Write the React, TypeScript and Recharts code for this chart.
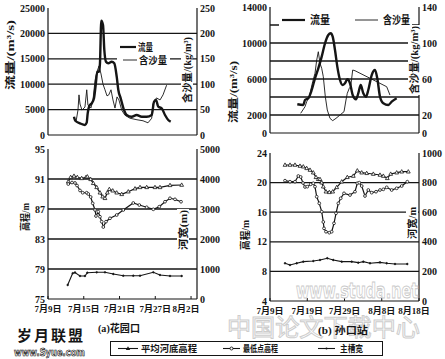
import React from 'react';
import { ComposedChart, Line, XAxis, YAxis, ReferenceLine } from 'recharts';

const SERIF = "'Liberation Serif', 'Noto Sans CJK SC', serif";
const CJK = "'Noto Sans CJK SC', sans-serif";
const INK = '#151515';

// ---------- (a) 花园口 : x = days after 7月9日 ----------
const hykXTicks = [0, 6, 12, 18, 24];
const hykXLabels = ['7月9日', '7月15日', '7月21日', '7月27日', '8月2日'];

const hykFlowDay = [4.36, 4.58, 5.37, 6.21, 6.49, 6.66, 6.93, 7.33, 7.72, 8.0, 8.27, 8.56, 8.72, 8.94, 9.23, 9.45, 9.73, 10.12, 10.69, 11.12, 11.53, 11.8, 12.2, 12.75, 13.2, 14.04, 14.88, 15.72, 16.56, 17.4, 17.79, 18.12, 18.5, 19.08, 19.63, 20.18, 20.59];
const hykFlow = [3600, 2800, 2300, 1970, 2420, 4270, 5710, 6240, 7220, 9840, 12460, 12460, 14110, 22500, 21650, 16730, 14430, 14110, 14430, 14110, 11480, 8860, 7220, 4920, 3940, 3600, 3940, 3600, 3600, 3940, 6550, 6890, 5570, 5260, 3940, 2950, 2620];

const hykSedDay = [4.36, 4.7, 5.03, 5.2, 5.37, 5.7, 6.2, 6.5, 6.7, 7.2, 7.55, 7.9, 8.2, 8.56, 8.9, 9.23, 9.56, 9.9, 10.2, 10.57, 10.9, 11.24, 11.58, 11.9, 12.37, 12.9, 13.76, 14.93, 15.94, 16.78, 17.4, 17.6, 18.2, 18.8, 19.3, 19.9];
const hykSed = [33, 26, 49, 79, 61, 49, 55, 89, 59, 53, 69, 108, 124, 136, 120, 100, 89, 77, 79, 89, 69, 53, 75, 69, 49, 39, 33, 30, 28, 24, 33, 61, 73, 69, 79, 98];

const hykMeanDay = [3.4, 3.8, 4.36, 4.92, 5.65, 6.38, 6.6, 7.16, 7.6, 8.17, 8.72, 9.18, 9.56, 9.95, 10.29, 10.86, 11.53, 12.37, 13.47, 14.6, 15.44, 16.56, 17.95, 18.79, 20.47, 22.43];
const hykMean = [90.64, 91.23, 91.4, 91.23, 91.09, 91.23, 91.31, 90.96, 90.43, 89.89, 89.17, 88.64, 88.43, 89.17, 89.63, 89.44, 89.17, 88.96, 89.31, 89.71, 89.89, 89.89, 89.89, 89.89, 90.16, 90.2];

const hykLowDay = [3.4, 4.03, 4.53, 4.87, 5.37, 5.82, 6.49, 6.76, 7.16, 7.5, 7.89, 8.05, 8.44, 8.72, 9.01, 9.28, 9.73, 10.4, 11.53, 12.63, 14.31, 15.32, 16.56, 17.67, 18.67, 19.63, 20.47, 21.31, 22.32];
const hykLow = [90.33, 90.53, 90.47, 90.13, 89.47, 89.17, 89.17, 89.0, 88.6, 87.76, 86.87, 86.07, 86.64, 85.97, 85.31, 84.6, 85.31, 85.76, 86.2, 86.87, 87.8, 87.53, 87.23, 86.96, 87.31, 87.97, 88.43, 88.29, 87.97];

const hykWidthDay = [3.3, 4.14, 4.53, 5.37, 6.2, 6.6, 8.17, 9.56, 10.96, 12.63, 14.31, 15.44, 17.67, 18.79, 20.47, 22.43];
const hykWidth = [467, 857, 883, 767, 767, 877, 890, 890, 833, 777, 777, 777, 890, 800, 767, 767];

// ---------- (b) 孙口站 ----------
const skXTicks = [0, 10, 20, 30, 40];
const skXLabels = ['7月9日', '7月19日', '7月29日', '8月8日', '8月18日'];

const skFlowDay = [7.33, 8.94, 9.4, 10.28, 11.2, 12.08, 12.97, 13.88, 14.77, 15.65, 16.3, 16.83, 17.45, 18.07, 18.79, 19.52, 20.13, 20.75, 21.48, 22.2, 23.09, 23.7, 24.35, 25.05, 25.77, 26.39, 27.3, 28.19, 28.8, 29.53, 30.42, 31.76, 32.67, 34.0];
const skFlow = [3190, 3110, 3670, 3860, 4780, 6080, 7190, 8480, 9970, 10890, 11080, 10700, 9220, 7370, 5890, 5330, 5520, 5970, 5520, 4220, 3740, 4410, 5330, 4410, 4030, 4780, 6440, 7000, 6080, 4030, 3300, 3110, 3480, 3860];

const skSedDay = [8.24, 9.4, 9.85, 10.55, 11.46, 12.08, 12.54, 12.97, 13.42, 13.88, 14.31, 14.85, 15.38, 16.1, 16.83, 17.72, 18.79, 19.87, 20.4, 20.75, 21.29, 21.66, 22.2, 22.82, 26.85, 31.33, 32.2];
const skSed = [21.9, 29.2, 34.8, 40.3, 57, 66.3, 81.1, 90.3, 77.4, 71.9, 62.5, 40.3, 25.6, 16.3, 13.7, 16.3, 20, 23.7, 36.7, 44.1, 49.7, 51.4, 70, 69.2, 60.8, 51.4, 42.2];

const skMeanDay = [4.03, 5.37, 6.71, 8.05, 8.94, 9.85, 10.74, 11.62, 12.35, 12.97, 13.42, 13.88, 14.31, 15.03, 15.92, 16.83, 17.91, 19.25, 20.75, 22.36, 23.44, 24.62, 25.96, 27.73, 29.53, 30.42, 31.49, 32.4, 34.01, 35.36, 37.13];
const skMean = [22.38, 22.38, 22.38, 22.24, 22.15, 21.93, 21.7, 21.34, 20.72, 20.45, 20.45, 19.99, 19.45, 18.77, 18.69, 18.77, 19.36, 20.12, 20.72, 20.89, 21.61, 21.34, 21.26, 21.16, 21.03, 20.89, 20.58, 21.16, 21.34, 21.47, 21.47];

const skLowDay = [4.03, 5.37, 6.71, 7.6, 8.24, 8.86, 9.4, 10.01, 10.93, 11.62, 12.08, 12.54, 13.23, 13.88, 14.31, 14.5, 15.03, 15.92, 16.56, 17.18, 17.72, 18.34, 18.98, 19.87, 21.48, 22.82, 23.44, 23.97, 24.62, 25.5, 26.39, 27.3, 28.46, 29.53, 30.42, 31.33, 32.67, 34.01, 35.36, 36.86];
const skLow = [20.26, 20.12, 20.12, 20.89, 20.76, 19.95, 19.41, 19.45, 19.77, 19.91, 19.45, 18.09, 17.2, 16.07, 14.68, 13.82, 13.36, 13.23, 13.36, 14.5, 15.85, 17.2, 17.88, 18.55, 18.32, 18.77, 19.91, 19.99, 19.54, 18.19, 19.0, 18.64, 18.77, 19.0, 19.09, 19.36, 19.0, 19.23, 19.54, 20.12];

const skWidthDay = [4.03, 5.37, 7.17, 8.94, 11.62, 13.42, 15.38, 16.99, 19.25, 21.93, 23.7, 25.05, 26.85, 29.53, 31.33, 33.56, 36.86];
const skWidth = [255, 243, 255, 266, 270, 277, 289, 277, 266, 266, 259, 266, 255, 261, 255, 250, 250];

// axis ticks / grid values
const hykQTicks = [0, 5000, 10000, 15000, 20000, 25000];
const hykSTicks = [0, 50, 100, 150, 200, 250];
const hykQGrid = [5000, 10000, 15000, 20000];
const skQTicks = [0, 2000, 6000, 10000, 14000];
const skSTicks = [0, 20, 60, 100, 140];
const skQGrid = [2000, 4000, 6000, 8000, 10000, 12000];
const hykHTicks = [75, 79, 83, 87, 91, 95];
const hykWTicks = [0, 1000, 2000, 3000, 4000, 5000];
const hykHGrid = [79, 83, 87, 91];
const skHTicks = [4, 8, 12, 16, 20, 24];
const skWTicks = [0, 200, 400, 600, 800, 1000];
const skHGrid = [8, 12, 16, 20];

const zip = (days: number[], vals: number[]) => days.map((d, i) => ({ d, v: vals[i] }));

const yTick = { fontSize: 10, fontFamily: SERIF, fontWeight: 'bold', fill: INK };

const mkXTick = (ticks: number[], labels: string[]) => (p: any) => {
  const i = ticks.indexOf(p.payload.value);
  // last label is pulled in a little, like the printed figure
  const dx = i === ticks.length - 1 ? -5 : 0;
  return (
    <g>
      <line x1={p.x} x2={p.x} y1={p.y} y2={p.y - 3} stroke={INK} strokeWidth={1} />
      <text x={p.x + dx} y={p.y + 10} textAnchor="middle" dominantBaseline="central" fontSize={9}
        fontWeight="bold" fontFamily={SERIF} fill={INK}>{labels[i]}</text>
    </g>
  );
};

const triDot = (p: any) => {
  const { cx, cy, index } = p;
  if (cx == null || cy == null) return <g key={`t${index}`} />;
  return (
    <path key={`t${index}`} d={`M${cx},${cy - 2.1}L${cx + 1.9},${cy + 1.3}L${cx - 1.9},${cy + 1.3}Z`}
      fill="#fff" stroke={INK} strokeWidth={0.8} />
  );
};

type Box = { left: number; top: number; width: number; height: number; mTop: number; lw: number; rw: number; xh: number };

function panel(
  box: Box, xDomain: [number, number], xTicks: number[], xLabels: string[] | null,
  lDomain: [number, number], lTicks: number[], rDomain: [number, number], rTicks: number[],
  grid: number[], series: React.ReactElement[],
) {
  return (
    <div style={{ position: 'absolute', left: box.left, top: box.top }}>
      <ComposedChart width={box.width} height={box.height} margin={{ top: box.mTop, right: 0, bottom: 0, left: 0 }}>
        <XAxis dataKey="d" type="number" domain={xDomain} ticks={xTicks} interval={0} allowDataOverflow
          height={box.xh} axisLine={{ stroke: INK, strokeWidth: 1.2 }} tickLine={false} tickSize={0} tickMargin={0}
          tick={xLabels ? mkXTick(xTicks, xLabels) : false} />
        <YAxis yAxisId="l" orientation="left" width={box.lw} domain={lDomain} ticks={lTicks} interval={0}
          allowDataOverflow axisLine={{ stroke: INK, strokeWidth: 1.2 }} tickLine={false} tickSize={0} tickMargin={3} tick={yTick} />
        <YAxis yAxisId="r" orientation="right" width={box.rw} domain={rDomain} ticks={rTicks} interval={0}
          allowDataOverflow axisLine={{ stroke: INK, strokeWidth: 1.2 }} tickLine={false} tickSize={0} tickMargin={3} tick={yTick} />
        {grid.map((g) => (
          <ReferenceLine key={g} yAxisId="l" y={g} stroke={INK} strokeWidth={1.3} />
        ))}
        {series}
      </ComposedChart>
    </div>
  );
}

const flowLine = (key: string, data: { d: number; v: number }[]) => (
  <Line key={key} yAxisId="l" data={data} dataKey="v" type="monotone" stroke={INK} strokeWidth={2.4}
    dot={false} isAnimationActive={false} />
);
const sedLine = (key: string, data: { d: number; v: number }[]) => (
  <Line key={key} yAxisId="r" data={data} dataKey="v" type="linear" stroke={INK} strokeWidth={0.9}
    dot={false} isAnimationActive={false} />
);
const meanLine = (key: string, data: { d: number; v: number }[]) => (
  <Line key={key} yAxisId="l" data={data} dataKey="v" type="linear" stroke={INK} strokeWidth={1.2}
    dot={triDot} isAnimationActive={false} />
);
const lowLine = (key: string, data: { d: number; v: number }[]) => (
  <Line key={key} yAxisId="l" data={data} dataKey="v" type="linear" stroke={INK} strokeWidth={1.2}
    dot={{ r: 1.4, fill: '#fff', stroke: INK, strokeWidth: 0.8 }} isAnimationActive={false} />
);
const widthLine = (key: string, data: { d: number; v: number }[]) => (
  <Line key={key} yAxisId="r" data={data} dataKey="v" type="linear" stroke={INK} strokeWidth={1.1}
    dot={{ r: 0.9, fill: INK, stroke: INK, strokeWidth: 0.5 }} isAnimationActive={false} />
);

function VTitle({ x, y, len, bg, children }: { x: number; y: number; len: number; bg?: boolean; children: string }) {
  return (
    <g>
      {bg && <rect x={x - 6} y={y - len / 2 - 1} width={12} height={len + 2} fill="#fff" />}
      <text x={x} y={y} transform={`rotate(-90 ${x} ${y})`} textAnchor="middle" dominantBaseline="central"
        fontSize={10.5} fontWeight="bold" fontFamily={SERIF} fill={INK} textLength={len} lengthAdjust="spacingAndGlyphs">
        {children}
      </text>
    </g>
  );
}

function T({ x, y, len, size = 10, children, ...rest }: any) {
  return (
    <text x={x} y={y} dominantBaseline="central" fontSize={size} fontWeight="bold" fontFamily={SERIF} fill={INK}
      textLength={len} lengthAdjust="spacingAndGlyphs" {...rest}>{children}</text>
  );
}

export default function App() {
  return (
    <div style={{ position: 'absolute', left: 0, top: 0, width: 445, height: 359, background: '#fff', overflow: 'hidden' }}>
      {panel({ left: 0, top: 0, width: 225, height: 140, mTop: 8, lw: 48, rw: 28, xh: 5 },
        [0, 25], hykXTicks, null, [0, 25000], hykQTicks, [0, 250], hykSTicks, hykQGrid,
        [sedLine('s', zip(hykSedDay, hykSed)), flowLine('q', zip(hykFlowDay, hykFlow))])}
      {panel({ left: 220, top: 0, width: 225, height: 138, mTop: 7, lw: 50, rw: 26, xh: 5 },
        [0, 40], skXTicks, null, [0, 14000], skQTicks, [0, 140], skSTicks, skQGrid,
        [sedLine('s', zip(skSedDay, skSed)), flowLine('q', zip(skFlowDay, skFlow))])}
      {panel({ left: 0, top: 140, width: 225, height: 182, mTop: 9, lw: 48, rw: 28, xh: 23 },
        [0, 25], hykXTicks, hykXLabels, [75, 95], hykHTicks, [0, 5000], hykWTicks, hykHGrid,
        [meanLine('m', zip(hykMeanDay, hykMean)), lowLine('lo', zip(hykLowDay, hykLow)), widthLine('w', zip(hykWidthDay, hykWidth))])}
      {panel({ left: 220, top: 140, width: 225, height: 182, mTop: 13, lw: 50, rw: 26, xh: 21 },
        [0, 40], skXTicks, skXLabels, [4, 24], skHTicks, [0, 1000], skWTicks, skHGrid,
        [meanLine('m', zip(skMeanDay, skMean)), lowLine('lo', zip(skLowDay, skLow)), widthLine('w', zip(skWidthDay, skWidth))])}

      <svg width={445} height={359} style={{ position: 'absolute', left: 0, top: 0, pointerEvents: 'none' }}>
        {/* watermarks */}
        <text x={296} y={290} dominantBaseline="central" fontSize={22} fontWeight="bold" fontFamily="'DejaVu Sans'"
          fill="none" stroke="#c9c9c9" strokeWidth={1} textLength={122} lengthAdjust="spacingAndGlyphs">www.studa.net</text>
        <text x={227} y={325} dominantBaseline="central" fontSize={24} fontFamily={CJK}
          fill="none" stroke="#cdcdcd" strokeWidth={1} textLength={193} lengthAdjust="spacingAndGlyphs">中国论文下载中心</text>
        <text x={17} y={334} dominantBaseline="central" fontSize={15} fontWeight="bold" fontFamily={CJK}
          fill={INK} textLength={66} lengthAdjust="spacing">岁月联盟</text>
        <text x={14} y={352} dominantBaseline="central" fontSize={10} fontWeight="bold" fontFamily="'DejaVu Sans'"
          fill="#fff" stroke={INK} strokeWidth={0.7} textLength={71} lengthAdjust="spacingAndGlyphs">www.Syue.com</text>

        {/* axis titles */}
        <VTitle x={10} y={55} len={70}>流量/(m³/s)</VTitle>
        <VTitle x={187} y={70} len={66} bg>含沙量/(kg/m³)</VTitle>
        <VTitle x={233} y={92} len={62}>流量/(m³/s)</VTitle>
        <VTitle x={414} y={60} len={68} bg>含沙量/(kg/m³)</VTitle>
        <VTitle x={25} y={217} len={28}>高程/m</VTitle>
        <VTitle x={183} y={230} len={40} bg>河宽(m)</VTitle>
        <VTitle x={245} y={235} len={30}>高程/m</VTitle>
        <VTitle x={412} y={223} len={32} bg>河宽/m</VTitle>

        {/* top-left legend */}
        <rect x={117} y={40} width={53} height={27} fill="#fff" />
        <line x1={120} x2={136} y1={47} y2={47} stroke={INK} strokeWidth={2.2} />
        <T x={138} y={47} len={15}>流量</T>
        <line x1={123} x2={137} y1={60} y2={60} stroke={INK} strokeWidth={0.9} />
        <T x={139} y={60} len={28}>含沙量</T>

        {/* top-right legend */}
        <rect x={279} y={13} width={133} height={16} fill="#fff" />
        <line x1={282} x2={305} y1={20} y2={20} stroke={INK} strokeWidth={2.2} />
        <T x={310} y={20} len={20} size={11}>流量</T>
        <line x1={355} x2={378} y1={20} y2={20} stroke={INK} strokeWidth={0.9} />
        <T x={383} y={20} len={27} size={11}>含沙量</T>

        {/* captions */}
        <T x={98} y={328} len={42}>(a)花园口</T>
        <T x={318} y={330} len={50}>(b) 孙口站</T>

        {/* bottom legend */}
        <rect x={110.5} y={341.5} width={272} height={14} fill="#fff" stroke={INK} strokeWidth={1} />
        <line x1={118} x2={138} y1={348.5} y2={348.5} stroke={INK} strokeWidth={1.1} />
        <path d="M128,346.2 L130.2,350 L125.8,350 Z" fill={INK} />
        <T x={141} y={348.5} len={56} size={9.5}>平均河底高程</T>
        <line x1={223} x2={240} y1={348.5} y2={348.5} stroke={INK} strokeWidth={1.1} />
        <circle cx={231.5} cy={348.5} r={1.5} fill="#fff" stroke={INK} strokeWidth={0.9} />
        <T x={243} y={348.5} len={35} size={9.5}>最低点高程</T>
        <line x1={318} x2={335} y1={348.5} y2={348.5} stroke={INK} strokeWidth={1.1} />
        <circle cx={326.5} cy={348.5} r={1} fill={INK} />
        <T x={340} y={348.5} len={23} size={9.5}>主槽宽</T>
      </svg>
    </div>
  );
}
